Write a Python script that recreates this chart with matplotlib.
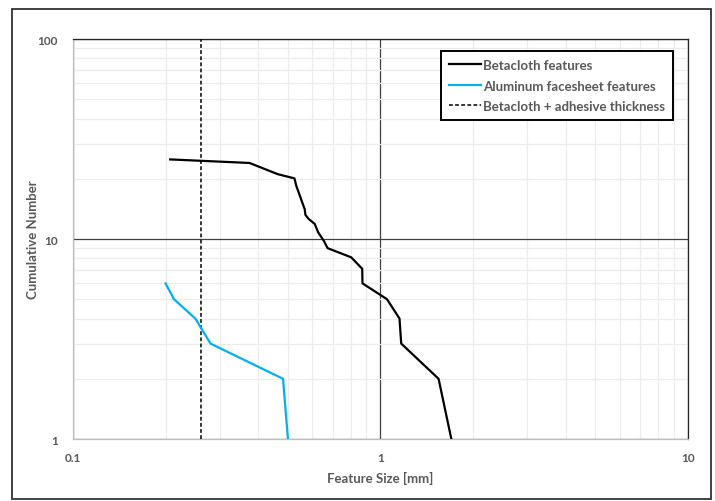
import matplotlib
matplotlib.use("Agg")
import matplotlib.pyplot as plt
from matplotlib.patches import Rectangle
from matplotlib.ticker import LogLocator, FixedLocator, FixedFormatter, NullFormatter

# Betacloth features (size in mm, cumulative number)
beta_size = [0.207, 0.375, 0.463, 0.525, 0.532, 0.556, 0.567, 0.570, 0.584,
             0.611, 0.627, 0.654, 0.673, 0.803, 0.872, 0.874, 1.05, 1.153,
             1.168, 1.545, 1.70]
beta_count = [25, 24, 21.1, 20.1, 18.5, 15.3, 14.1, 13.2, 12.6,
              11.9, 10.8, 9.8, 9.0, 8.1, 7.1, 6.0, 5.0, 4.0,
              3.0, 2.0, 1.0]

# Aluminum facesheet features
al_size = [0.20, 0.213, 0.25, 0.28, 0.482, 0.50]
al_count = [6, 5, 4, 3, 2, 1]

# Betacloth + adhesive thickness (mm)
thickness = 0.26

x_ticks = [0.1, 1, 10]
x_labels = ["0.1", "1", "10"]
y_ticks = [1, 10, 100]
y_labels = ["1", "10", "100"]

text_color = "#595959"
font = "Lato"

fig = plt.figure(figsize=(7.15, 5.02), dpi=100)
ax = fig.add_axes([0.1021, 0.1235, 0.8601, 0.7968])

# outer border around the chart area
fig.patches.append(Rectangle((0.0168, 0.004), 0.9776, 0.976, transform=fig.transFigure,
                             fill=False, edgecolor="#333333", linewidth=1.3))

ax.plot(beta_size, beta_count, color="black", linewidth=1.6, label="Betacloth features",
        solid_joinstyle="round", zorder=4)
ax.plot(al_size, al_count, color="#00B0F0", linewidth=1.6, label="Aluminum facesheet features",
        solid_joinstyle="round", zorder=4)
ax.axvline(thickness, color="black", linewidth=1.1, linestyle=(0, (2.5, 1.5)),
           label="Betacloth + adhesive thickness", zorder=3)

ax.set_xscale("log")
ax.set_yscale("log")
ax.set_xlim(0.1, 10)
ax.set_ylim(1, 100)

ax.xaxis.set_major_locator(FixedLocator(x_ticks))
ax.xaxis.set_major_formatter(FixedFormatter(x_labels))
ax.yaxis.set_major_locator(FixedLocator(y_ticks))
ax.yaxis.set_major_formatter(FixedFormatter(y_labels))
ax.xaxis.set_minor_locator(LogLocator(base=10, subs=range(2, 10)))
ax.yaxis.set_minor_locator(LogLocator(base=10, subs=range(2, 10)))
ax.xaxis.set_minor_formatter(NullFormatter())
ax.yaxis.set_minor_formatter(NullFormatter())

ax.set_axisbelow(True)
ax.grid(True, which="major", color="#404040", linewidth=0.9)
ax.grid(True, which="minor", color="#ececec", linewidth=0.9)

ax.tick_params(which="both", length=0)
ax.tick_params(axis="x", pad=9)
ax.tick_params(axis="y", pad=11)
for lab in ax.get_xticklabels() + ax.get_yticklabels():
    lab.set_fontfamily(font)
    lab.set_fontweight("bold")
    lab.set_fontsize(8.5)
    lab.set_color(text_color)

for side in ["left", "bottom"]:
    ax.spines[side].set_color("#bfbfbf")
    ax.spines[side].set_linewidth(0.9)
for side in ["top", "right"]:
    ax.spines[side].set_color("#222222")
    ax.spines[side].set_linewidth(0.9)

ax.set_xlabel("Feature Size [mm]", fontsize=9.5, fontweight="bold", color=text_color,
              family=font, labelpad=6)
ax.set_ylabel("Cumulative Number", fontsize=9.5, fontweight="bold", color=text_color,
              family=font)
ax.yaxis.set_label_coords(-0.056, 0.5)

leg = ax.legend(loc="upper right", bbox_to_anchor=(0.976, 0.97), borderaxespad=0,
                fancybox=False, framealpha=1, edgecolor="black", handlelength=2.4,
                handletextpad=0.2, labelspacing=0.65, borderpad=0.6,
                prop={"family": font, "weight": "bold", "size": 9.5})
leg.get_frame().set_linewidth(1.4)
for t in leg.get_texts():
    t.set_color(text_color)

fig.savefig("out.png", dpi=100)
